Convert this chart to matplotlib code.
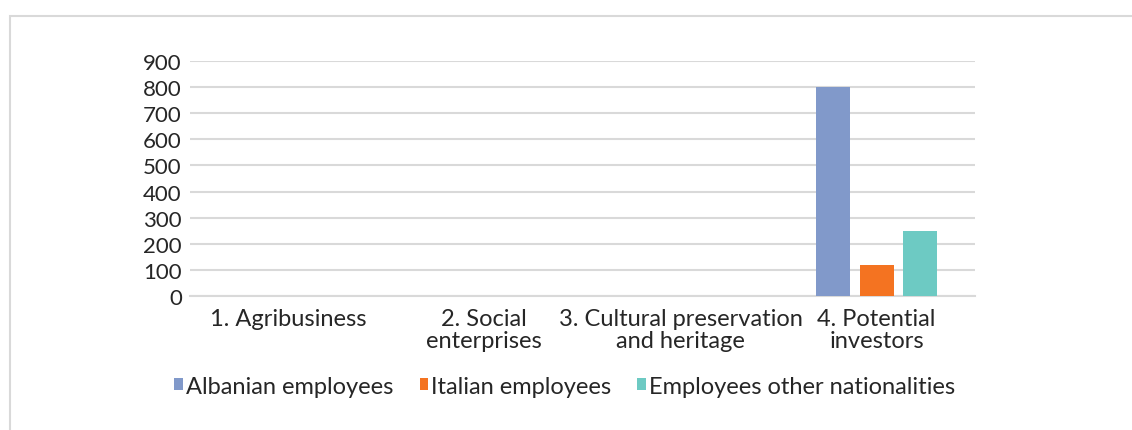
import matplotlib.pyplot as plt
import numpy as np
from matplotlib.patches import Rectangle

plt.rcParams['font.family'] = ['Lato', 'DejaVu Sans']

categories = ["1. Agribusiness", "2. Social\nenterprises",
              "3. Cultural preservation\nand heritage", "4. Potential\ninvestors"]
series_names = ["Albanian employees", "Italian employees", "Employees other nationalities"]
albanian = [0, 0, 0, 800]
italian = [0, 0, 0, 120]
other = [0, 0, 0, 250]
colors = ["#8199CA", "#F47321", "#6DCAC3"]

fig = plt.figure(figsize=(11.32, 4.31), dpi=100)
ax = fig.add_axes([0.168, 0.311, 0.693, 0.545])

# outer frame of the chart box
fig.patches.append(Rectangle((10 / 1132, -0.1), 1.2, 1 - 17 / 431 + 0.1,
                             transform=fig.transFigure, fill=False,
                             edgecolor="#D9D9D9", linewidth=1.5))

x = np.arange(len(categories))
w = 0.173
step = 0.22
for i, (vals, name) in enumerate(zip([albanian, italian, other], series_names)):
    ax.bar(x + (i - 1) * step, vals, w, color=colors[i], label=name, zorder=3)

ax.set_xlim(-0.5, 3.5)
ax.set_ylim(0, 900)
ax.set_yticks(range(0, 901, 100))
ax.set_xticks(x)
ax.set_xticklabels(categories, linespacing=1.05)
ax.tick_params(axis='y', length=0, labelsize=16, colors="#262626", pad=6)
ax.tick_params(axis='x', length=0, labelsize=17, colors="#262626", pad=9)
ax.grid(axis='y', color="#D9D9D9", linewidth=1.5, zorder=0)
for s in ['top', 'right', 'left']:
    ax.spines[s].set_visible(False)
ax.spines['bottom'].set_color("#D9D9D9")
ax.spines['bottom'].set_linewidth(1.5)

leg = fig.legend(loc='center', bbox_to_anchor=(0.499, 0.102), ncol=3, frameon=False,
                 fontsize=17, handlelength=0.35, handleheight=0.35,
                 handletextpad=0.15, columnspacing=1.1)
for t in leg.get_texts():
    t.set_color("#262626")

fig.savefig("out.png", dpi=100)
